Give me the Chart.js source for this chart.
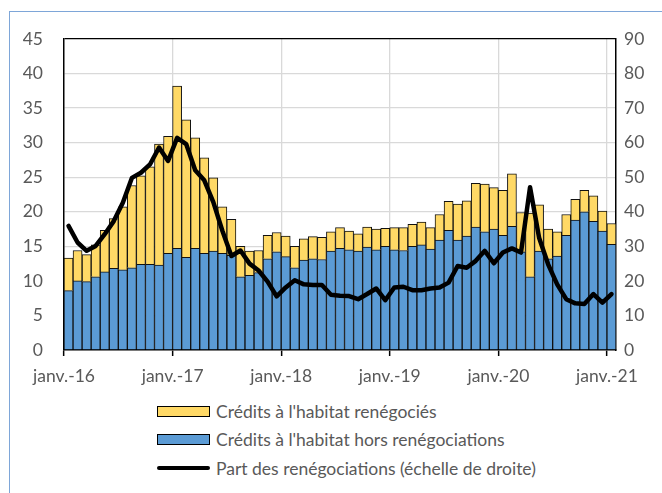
<!DOCTYPE html>
<html lang="fr">
<head>
<meta charset="utf-8">
<title>Crédits à l'habitat</title>
<script src="https://cdn.jsdelivr.net/npm/chart.js@4.4.1/dist/chart.umd.min.js"></script>
<style>
    html, body { margin: 0; padding: 0; background: #ffffff; }
    body { width: 662px; height: 493px; position: relative; overflow: hidden; font-family: Lato, sans-serif; }
    #frame { position: absolute; left: 9px; top: 11px; width: 700px; height: 600px;
             border-left: 1px solid #7ea6d8; border-top: 1px solid #7ea6d8; }
    #wrap { position: absolute; left: 0; top: 0; width: 662px; height: 395px; }
    #legend { position: absolute; left: 157px; top: 397px; }
    .item { display: flex; align-items: center; height: 28.5px; color: #595959; font-size: 17.5px; white-space: nowrap; }
    .swatch { width: 53px; height: 11px; border: 1px solid #000; box-sizing: border-box; margin-right: 6px; }
    .swatch.line { height: 4px; border: none; background: #000; border-radius: 2px; }
</style>
</head>
<body>
<div id="frame"></div>
<div id="wrap"><canvas id="chart"></canvas></div>
<div id="legend"></div>
<script>
// Mois janv.-16 .. janv.-21
const monthNames = ['janv.', 'févr.', 'mars', 'avr.', 'mai', 'juin', 'juil.', 'août', 'sept.', 'oct.', 'nov.', 'déc.'];
const years = ['16', '17', '18', '19', '20', '21'];
const categories = [];
years.forEach((yy, k) => {
    monthNames.forEach((m, j) => {
        if (k < years.length - 1 || j === 0) categories.push(m + '-' + yy);
    });
});

// Crédits à l'habitat hors renégociations (Mds EUR)
const horsRenego = [
    8.6, 10.0, 9.9, 10.6, 11.3, 11.8, 11.6, 11.9, 12.4, 12.4, 12.3, 14.0,
    14.7, 13.4, 14.7, 14.0, 14.3, 14.0, 13.7, 10.6, 10.8, 11.2, 13.2, 14.2,
    13.5, 11.9, 13.0, 13.2, 13.1, 14.3, 14.7, 14.5, 14.3, 14.9, 14.5, 15.0,
    14.5, 14.4, 15.0, 15.2, 14.6, 15.9, 17.3, 15.9, 16.5, 17.8, 17.1, 17.5,
    16.6, 17.9, 14.2, 10.6, 14.3, 13.2, 13.6, 16.6, 18.8, 20.0, 18.6, 17.2,
    15.3
];

// Crédits à l'habitat renégociés (Mds EUR)
const renegocies = [
    4.7, 4.4, 3.9, 4.6, 6.0, 7.2, 9.1, 11.9, 12.8, 14.1, 17.5, 16.9,
    23.5, 19.9, 16.0, 13.8, 10.6, 6.7, 5.2, 4.4, 3.5, 3.2, 3.4, 2.8,
    3.0, 3.1, 3.1, 3.2, 3.2, 2.8, 3.0, 2.7, 2.5, 2.9, 3.0, 2.6,
    3.2, 3.3, 3.2, 3.3, 3.1, 3.7, 4.2, 5.2, 5.1, 6.3, 6.9, 6.0,
    6.5, 7.6, 5.7, 9.2, 6.7, 4.3, 3.5, 3.0, 3.0, 3.1, 3.7, 2.9,
    3.0
];

// Part des renégociations (%, échelle de droite)
const partRenego = [
    35.9, 31.1, 28.7, 30.1, 33.5, 37.3, 42.6, 49.8, 51.3, 53.7, 58.6, 54.7,
    61.4, 59.6, 52.0, 49.1, 42.8, 34.5, 27.2, 28.8, 25.0, 23.0, 19.8, 15.5,
    18.1, 20.2, 19.0, 18.8, 18.8, 16.0, 15.7, 15.6, 14.7, 16.2, 17.8, 14.4,
    18.1, 18.3, 17.3, 17.3, 17.8, 18.1, 19.5, 24.3, 23.8, 25.8, 28.7, 25.1,
    28.2, 29.4, 28.2, 47.1, 32.5, 24.8, 19.0, 14.7, 13.5, 13.3, 16.2, 13.7,
    16.2
];

const leftTicks = [0, 5, 10, 15, 20, 25, 30, 35, 40, 45];
const rightTicks = [0, 10, 20, 30, 40, 50, 60, 70, 80, 90];

const textColor = '#595959';
const gridColor = '#d9d9d9';
const font = { family: 'Lato', size: 17.5 };

// Légende en HTML, dans l'ordre de l'original
const legendOrder = [1, 0, 2];
const htmlLegend = {
    id: 'htmlLegend',
    afterUpdate(chart) {
        const box = document.getElementById('legend');
        box.innerHTML = '';
        legendOrder.forEach(i => {
            const ds = chart.data.datasets[i];
            const row = document.createElement('div');
            row.className = 'item';
            const sw = document.createElement('span');
            sw.className = ds.type === 'line' ? 'swatch line' : 'swatch';
            if (ds.type !== 'line') sw.style.background = ds.backgroundColor;
            const txt = document.createElement('span');
            txt.textContent = ds.label;
            row.appendChild(sw);
            row.appendChild(txt);
            box.appendChild(row);
        });
    }
};

new Chart(document.getElementById('chart'), {
    type: 'bar',
    data: {
        labels: categories,
        datasets: [
            {
                label: "Crédits à l'habitat hors renégociations",
                data: horsRenego,
                backgroundColor: '#5b9bd5',
                borderColor: '#111111',
                borderWidth: 1,
                categoryPercentage: 1,
                barPercentage: 1,
                yAxisID: 'y',
                order: 2
            },
            {
                label: "Crédits à l'habitat renégociés",
                data: renegocies,
                backgroundColor: '#ffd966',
                borderColor: '#111111',
                borderWidth: 1,
                categoryPercentage: 1,
                barPercentage: 1,
                yAxisID: 'y',
                order: 2
            },
            {
                type: 'line',
                label: 'Part des renégociations (échelle de droite)',
                data: partRenego,
                borderColor: '#000000',
                borderWidth: 4.5,
                borderJoinStyle: 'round',
                borderCapStyle: 'round',
                pointRadius: 0,
                tension: 0,
                yAxisID: 'y1',
                order: 1
            }
        ]
    },
    options: {
        responsive: true,
        maintainAspectRatio: false,
        animation: false,
        layout: { padding: { top: 39, right: 0, bottom: 0, left: 0 } },
        plugins: {
            legend: { display: false },
            tooltip: { enabled: false }
        },
        scales: {
            x: {
                stacked: true,
                offset: true,
                afterFit(scale) { scale.height = 45; },
                grid: {
                    offset: true,
                    drawOnChartArea: true,
                    tickLength: 6,
                    lineWidth: 1.3,
                    color: ctx => (ctx.index % 12 === 0 && ctx.index > 0) ? gridColor : 'rgba(0,0,0,0)',
                    tickColor: ctx => (ctx.index % 12 === 0) ? '#000000' : 'rgba(0,0,0,0)',
                    tickWidth: 1.5
                },
                border: { color: '#000000', width: 1.5 },
                ticks: {
                    autoSkip: false,
                    maxRotation: 0,
                    color: textColor,
                    font: font,
                    padding: 10,
                    labelOffset: -4.5,
                    callback: (val, i) => (i % 12 === 0 ? categories[i] : '')
                }
            },
            y: {
                stacked: true,
                position: 'left',
                min: 0,
                max: 45,
                afterFit(scale) { scale.width = 64; },
                afterBuildTicks(scale) { scale.ticks = leftTicks.map(v => ({ value: v })); },
                grid: {
                    drawTicks: false,
                    lineWidth: 1.3,
                    color: ctx => (ctx.tick && ctx.tick.value === 45) ? '#000000' : gridColor
                },
                border: { color: '#000000', width: 1.5 },
                ticks: { color: textColor, font: font, padding: 21 }
            },
            y1: {
                position: 'right',
                min: 0,
                max: 90,
                afterFit(scale) { scale.width = 46; },
                afterBuildTicks(scale) { scale.ticks = rightTicks.map(v => ({ value: v })); },
                grid: { drawOnChartArea: false, drawTicks: false },
                border: { color: '#000000', width: 1.5 },
                ticks: { color: textColor, font: font, padding: 8 }
            }
        }
    },
    plugins: [htmlLegend]
});
</script>
</body>
</html>
